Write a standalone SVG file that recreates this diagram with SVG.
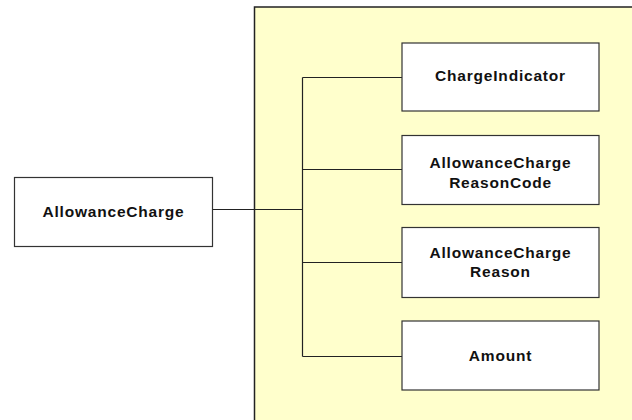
<svg xmlns="http://www.w3.org/2000/svg" width="632" height="420" viewBox="0 0 632 420">
<style>
.box{fill:#ffffff;stroke:#333333;stroke-width:1.2}
.lbl{font-family:"Liberation Sans",Arial,sans-serif;font-size:15.5px;font-weight:bold;fill:#111111;text-anchor:middle;letter-spacing:0.8px}
.conn{stroke:#222222;stroke-width:1.2;fill:none}
</style>
<rect id="panel" x="254.5" y="7" width="390" height="420" fill="#ffffcc" stroke="#222222" stroke-width="1.5"/>
<g id="connectors">
<path class="conn" d="M212 209.5H302.5M302.5 77.5V356.5M302.5 77.5H402M302.5 169.5H402M302.5 262.5H402M302.5 356.5H402"/>
</g>
<g id="node-allowancecharge">
<rect class="box" x="14.5" y="177.5" width="198" height="69"/>
<text class="lbl" x="113.5" y="216.5">AllowanceCharge</text>
</g>
<g id="node-chargeindicator">
<rect class="box" x="402" y="43" width="197" height="68"/>
<text class="lbl" x="500.5" y="81">ChargeIndicator</text>
</g>
<g id="node-reasoncode">
<rect class="box" x="402" y="135.5" width="197" height="69"/>
<text class="lbl" x="500.5" y="168">AllowanceCharge</text>
<text class="lbl" x="500.5" y="188">ReasonCode</text>
</g>
<g id="node-reason">
<rect class="box" x="402" y="227.5" width="197" height="70"/>
<text class="lbl" x="500.5" y="258">AllowanceCharge</text>
<text class="lbl" x="500.5" y="277">Reason</text>
</g>
<g id="node-amount">
<rect class="box" x="402" y="321" width="197" height="69"/>
<text class="lbl" x="500.5" y="360.5">Amount</text>
</g>
</svg>
